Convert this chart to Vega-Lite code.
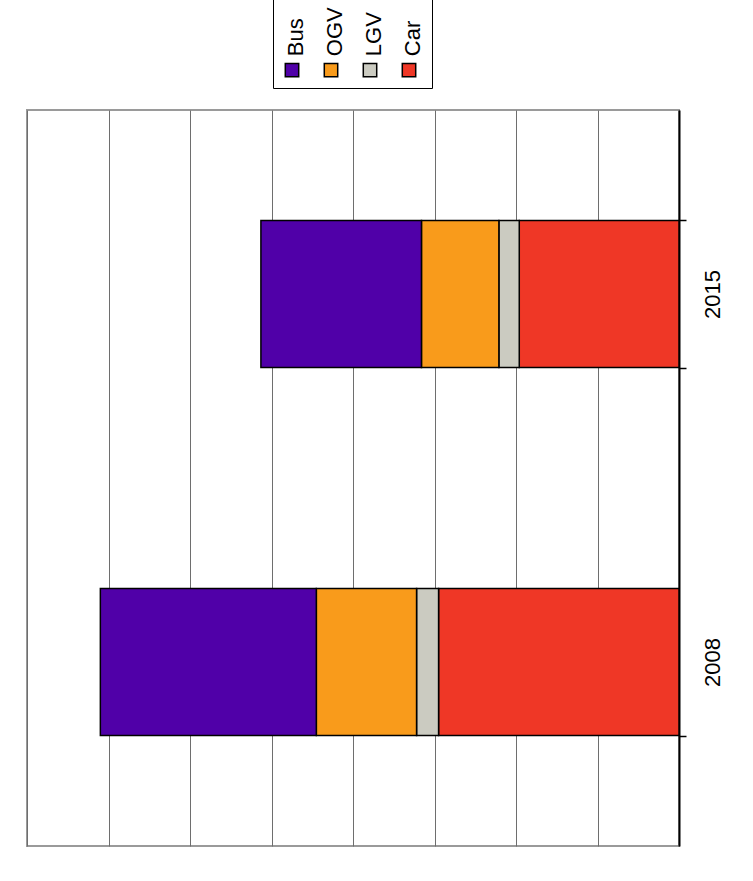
{
  "$schema": "https://vega.github.io/schema/vega-lite/v6.json",
  "width": 652,
  "height": 736,
  "autosize": {"type": "none"},
  "padding": {"left": 27, "top": 110, "right": 74, "bottom": 35},
  "background": "white",
  "config": {
    "font": "Liberation Sans",
    "view": {"stroke": "#9a9a9a", "strokeWidth": 2}
  },
  "data": {
    "values": [
      {"year": "2008", "type": "Car", "value": 295},
      {"year": "2008", "type": "LGV", "value": 27},
      {"year": "2008", "type": "OGV", "value": 123},
      {"year": "2008", "type": "Bus", "value": 265},
      {"year": "2015", "type": "Car", "value": 196},
      {"year": "2015", "type": "LGV", "value": 25},
      {"year": "2015", "type": "OGV", "value": 95},
      {"year": "2015", "type": "Bus", "value": 197}
    ]
  },
  "transform": [
    {"calculate": "indexof(['Car', 'LGV', 'OGV', 'Bus'], datum.type)", "as": "stackRank"}
  ],
  "mark": {"type": "bar", "stroke": "black", "strokeWidth": 1.5},
  "encoding": {
    "y": {
      "field": "year",
      "type": "nominal",
      "sort": ["2015", "2008"],
      "scale": {"paddingInner": 0.6, "paddingOuter": 0.3},
      "axis": {
        "orient": "right",
        "title": null,
        "domainColor": "black",
        "domainWidth": 2,
        "tickColor": "black",
        "tickWidth": 1.5,
        "tickSize": 7,
        "tickBand": "extent",
        "labelAngle": 270,
        "labelAlign": "center",
        "labelBaseline": "middle",
        "labelFontSize": 22,
        "labelColor": "black",
        "labelPadding": 26
      }
    },
    "x": {
      "field": "value",
      "type": "quantitative",
      "stack": "zero",
      "scale": {"domain": [0, 800], "reverse": true, "nice": false},
      "axis": {
        "title": null,
        "values": [0, 100, 200, 300, 400, 500, 600, 700, 800],
        "labels": false,
        "ticks": false,
        "domain": false,
        "grid": true,
        "gridColor": "#6e6e6e",
        "gridWidth": 1
      }
    },
    "order": {"field": "stackRank", "type": "quantitative", "sort": "ascending"},
    "color": {
      "field": "type",
      "type": "nominal",
      "scale": {
        "domain": ["Bus", "OGV", "LGV", "Car"],
        "range": ["#5000a8", "#f99b1b", "#cbcbc1", "#ef3726"]
      },
      "legend": {
        "orient": "none",
        "legendX": 246,
        "legendY": -119,
        "direction": "horizontal",
        "columns": 4,
        "title": " ",
        "titleFontSize": 50,
        "titlePadding": 10,
        "strokeColor": "black",
        "fillColor": "white",
        "padding": 8,
        "columnPadding": 12,
        "symbolType": "square",
        "symbolSize": 180,
        "symbolStrokeColor": "black",
        "symbolStrokeWidth": 1.5,
        "labelFontSize": 22,
        "labelColor": "black",
        "labelOffset": 0,
        "encode": {
          "labels": {
            "update": {
              "angle": {"value": -90},
              "align": {"value": "left"},
              "baseline": {"value": "middle"},
              "dx": {"value": 14},
              "dy": {"value": -7}
            }
          }
        }
      }
    }
  }
}
